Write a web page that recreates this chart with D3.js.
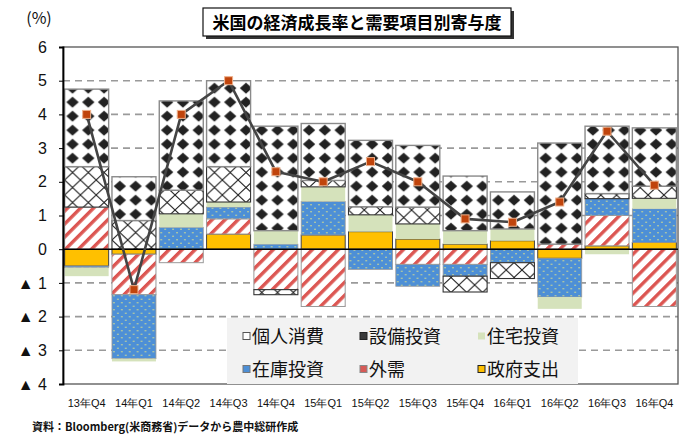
<!DOCTYPE html>
<html><head><meta charset="utf-8">
<script src="https://cdn.jsdelivr.net/npm/d3@7"></script>
<style>
body{margin:0;background:#fff;}
svg{display:block;font-family:"Noto Sans CJK JP","Noto Sans",sans-serif;}
</style></head><body>
<svg id="chart" width="683" height="439"></svg>
<script>
// Quarterly US real GDP growth (annualised, %) and contributions by demand component
const categories = ["13年Q4","14年Q1","14年Q2","14年Q3","14年Q4","15年Q1","15年Q2","15年Q3","15年Q4","16年Q1","16年Q2","16年Q3","16年Q4"];
const government  = [-0.5, -0.15, 0,    0.45, 0,    0.42, 0.52, 0.3,  0.15, 0.25, -0.27, 0.1,  0.2];
const netExports  = [1.25, -1.2, -0.4,  0.45, -1.2, -1.7, 0,   -0.45, -0.45, 0,    0.15, 0.9, -1.7];
const inventory   = [-0.05, -1.9, 0.65, 0.35, 0.15, 1.0, -0.6, -0.65, -0.35, -0.4, -1.15, 0.5,  1.0];
const housing     = [-0.25, -0.08, 0.4, 0.15, 0.4,  0.43, 0.5,  0.45, 0.4,  0.35, -0.35, -0.15, 0.31];
const equipment   = [1.2,  0.85, 0.7,  1.05, -0.15, 0.19, 0.24, 0.5, -0.47, -0.47, 0,    0.15, 0.36];
const consumption = [2.3,  1.3,  2.65, 2.55, 3.1,  1.69, 1.97, 1.83, 1.62, 1.1,  3.0,  2.0,  1.73];
const gdpGrowth   = [4.0, -1.2,  4.0,  5.0,  2.3,  2.0,  2.6,  2.0,  0.9,  0.8,  1.4,  3.5,  1.9];
const yTicks = [6,5,4,3,2,1,0,-1,-2,-3,-4];

// stacking order outward from zero
const keys = ["政府支出","外需","在庫投資","住宅投資","設備投資","個人消費"];
const seriesData = {"政府支出":government,"外需":netExports,"在庫投資":inventory,"住宅投資":housing,"設備投資":equipment,"個人消費":consumption};
const legendOrder = ["個人消費","設備投資","住宅投資","在庫投資","外需","政府支出"];

const rows = categories.map((c,i)=>{
  const r = {cat:c};
  keys.forEach(k=>r[k]=seriesData[k][i]);
  return r;
});

const svg = d3.select("#chart");
const plotL = 63, plotR = 678, plotT = 47, plotB = 384;

const x = d3.scaleBand().domain(categories).range([plotL,plotR]).paddingInner(0.07).paddingOuter(0.035);
const y = d3.scaleLinear().domain([-4,6]).range([plotB,plotT]);
const step = x.step(), bw = x.bandwidth();

// fill patterns
const defs = svg.append("defs");
const px0 = x(categories[0]);

const pd = defs.append("pattern").attr("id","pDiamond").attr("patternUnits","userSpaceOnUse")
  .attr("x",px0).attr("y",y(0)).attr("width",step/3).attr("height",14);
pd.append("rect").attr("width",step/3).attr("height",14).attr("fill","#fff");
{
  const w = step/3, h = 14, cx = w/2, cy = h/2, r = 6.2, rv = 5.6;
  pd.append("polygon").attr("points",`${cx},${cy-rv} ${cx+r},${cy} ${cx},${cy+rv} ${cx-r},${cy}`).attr("fill","#222");
}

const pc = defs.append("pattern").attr("id","pCross").attr("patternUnits","userSpaceOnUse")
  .attr("x",px0).attr("y",0).attr("width",step/3).attr("height",15);
pc.append("rect").attr("width",step/3).attr("height",15).attr("fill","#fff");
pc.append("path").attr("d",`M0,0L${step/3},15M${step/3},0L0,15`).attr("stroke","#222").attr("stroke-width",1.1);

const pdot = defs.append("pattern").attr("id","pDots").attr("patternUnits","userSpaceOnUse")
  .attr("x",px0).attr("y",0).attr("width",step/6).attr("height",7);
pdot.append("rect").attr("width",step/6).attr("height",7).attr("fill","#4d8fd6");
pdot.append("circle").attr("cx",2).attr("cy",1.8).attr("r",0.8).attr("fill","#dfe38a");
pdot.append("circle").attr("cx",2+step/12).attr("cy",5.3).attr("r",0.8).attr("fill","#dfe38a");

const ps = defs.append("pattern").attr("id","pStripe").attr("patternUnits","userSpaceOnUse")
  .attr("width",9.2).attr("height",9.2).attr("patternTransform","rotate(45)");
ps.append("rect").attr("width",9.2).attr("height",9.2).attr("fill","#fff");
ps.append("rect").attr("width",3.4).attr("height",9.2).attr("fill","#dc5652");

const style = {
  "個人消費":{fill:"url(#pDiamond)",stroke:"#8a8a8a",sw:1.4},
  "設備投資":{fill:"url(#pCross)",stroke:"#333",sw:1.1},
  "住宅投資":{fill:"#d5e2bb",stroke:"none",sw:0},
  "在庫投資":{fill:"url(#pDots)",stroke:"#9a9a9a",sw:0.8},
  "外需":{fill:"url(#pStripe)",stroke:"#9a9a9a",sw:1},
  "政府支出":{fill:"#ffc000",stroke:"#444",sw:1}
};

// gridlines
svg.append("g").selectAll("line").data(yTicks.filter(t=>t!==0 && t!==6 && t!==-4)).join("line")
  .attr("x1",plotL).attr("x2",plotR).attr("y1",d=>y(d)).attr("y2",d=>y(d))
  .attr("stroke","#9a9a9a").attr("stroke-width",1.6).attr("stroke-dasharray","7,5");

// plot frame
svg.append("rect").attr("x",plotL).attr("y",plotT).attr("width",plotR-plotL).attr("height",plotB-plotT)
  .attr("fill","none").attr("stroke","#555").attr("stroke-width",1.3);

// legend panel
const lg = svg.append("g");
lg.append("rect").attr("x",227).attr("y",318).attr("width",351).attr("height",66).attr("fill","#f2f2f2");

// stacked bars
const stack = d3.stack().keys(keys).offset(d3.stackOffsetDiverging)(rows);
svg.append("g").selectAll("g").data(stack).join("g")
  .each(function(s){
    const st = style[s.key];
    d3.select(this).selectAll("rect").data(s.filter(d=>Math.abs(d[1]-d[0])>1e-9)).join("rect")
      .attr("x",d=>x(d.data.cat)).attr("width",bw)
      .attr("y",d=>y(Math.max(d[0],d[1]))).attr("height",d=>Math.abs(y(d[0])-y(d[1])))
      .attr("fill",st.fill).attr("stroke",st.stroke).attr("stroke-width",st.sw);
  });

// zero line
svg.append("line").attr("x1",plotL).attr("x2",plotR).attr("y1",y(0)).attr("y2",y(0))
  .attr("stroke","#000").attr("stroke-width",1.6);

// y axis
const yAxis = svg.append("g").attr("transform",`translate(${plotL},0)`)
  .call(d3.axisLeft(y).tickValues(yTicks).tickSize(4).tickPadding(12)
    .tickFormat(d=> d<0 ? "▲ "+(-d) : String(d)));
yAxis.select(".domain").attr("stroke","#000").attr("stroke-width",1.8);
yAxis.selectAll(".tick line").attr("stroke","#000");
yAxis.selectAll("text").attr("font-size",16).attr("fill","#111");

// x axis
const xAxis = svg.append("g").attr("transform",`translate(0,${plotB})`)
  .call(d3.axisBottom(x).tickSize(0).tickPadding(15));
xAxis.select(".domain").remove();
xAxis.selectAll("text").attr("font-size",11).attr("fill","#111");

// GDP growth line with markers
const line = d3.line().x((d,i)=>x(categories[i])+bw/2).y(d=>y(d));
svg.append("path").datum(gdpGrowth).attr("d",line).attr("fill","none")
  .attr("stroke","#444").attr("stroke-width",2.6).attr("stroke-linejoin","round");
svg.append("g").selectAll("rect").data(gdpGrowth).join("rect")
  .attr("x",(d,i)=>x(categories[i])+bw/2-4).attr("y",d=>y(d)-4)
  .attr("width",8).attr("height",8).attr("fill","#c0440c").attr("stroke","#eeb08a").attr("stroke-width",1);

// legend entries
const legendPos = [[243,336],[360,336],[478,336],[243,369],[360,369],[478,369]];
const swatch = {
  "個人消費":{fill:"#fff",stroke:"#555"},
  "設備投資":{fill:"#3a3a3a",stroke:"#222"},
  "住宅投資":{fill:"#d5e2bb",stroke:"none"},
  "在庫投資":{fill:"#4d8fd6",stroke:"#777"},
  "外需":{fill:"#d65a56",stroke:"#888"},
  "政府支出":{fill:"#ffc000",stroke:"#222"}
};
legendOrder.forEach((k,i)=>{
  const [lx,ly] = legendPos[i];
  lg.append("rect").attr("x",lx).attr("y",ly-3.5).attr("width",7).attr("height",7)
    .attr("fill",swatch[k].fill).attr("stroke",swatch[k].stroke).attr("stroke-width",1);
  lg.append("text").attr("x",lx+9).attr("y",ly+6.5).attr("font-size",18).attr("fill","#111").text(k);
});

// title
const tg = svg.append("g");
tg.append("rect").attr("x",206).attr("y",11).attr("width",308).attr("height",28).attr("fill","#333");
tg.append("rect").attr("x",203).attr("y",8).attr("width",308).attr("height",28).attr("fill","#fff").attr("stroke","#111").attr("stroke-width",1.2);
tg.append("text").attr("x",357).attr("y",28.5).attr("text-anchor","middle").attr("font-size",17)
  .attr("font-weight","bold").attr("fill","#000").text("米国の経済成長率と需要項目別寄与度");

// unit label and source
svg.append("text").attr("x",39).attr("y",24).attr("text-anchor","middle").attr("font-size",16).attr("fill","#111").text("(%)");
svg.append("text").attr("x",32).attr("y",431).attr("font-size",11).attr("font-weight","bold").attr("fill","#111")
  .text("資料：Bloomberg(米商務省)データから農中総研作成");
</script>
</body></html>
